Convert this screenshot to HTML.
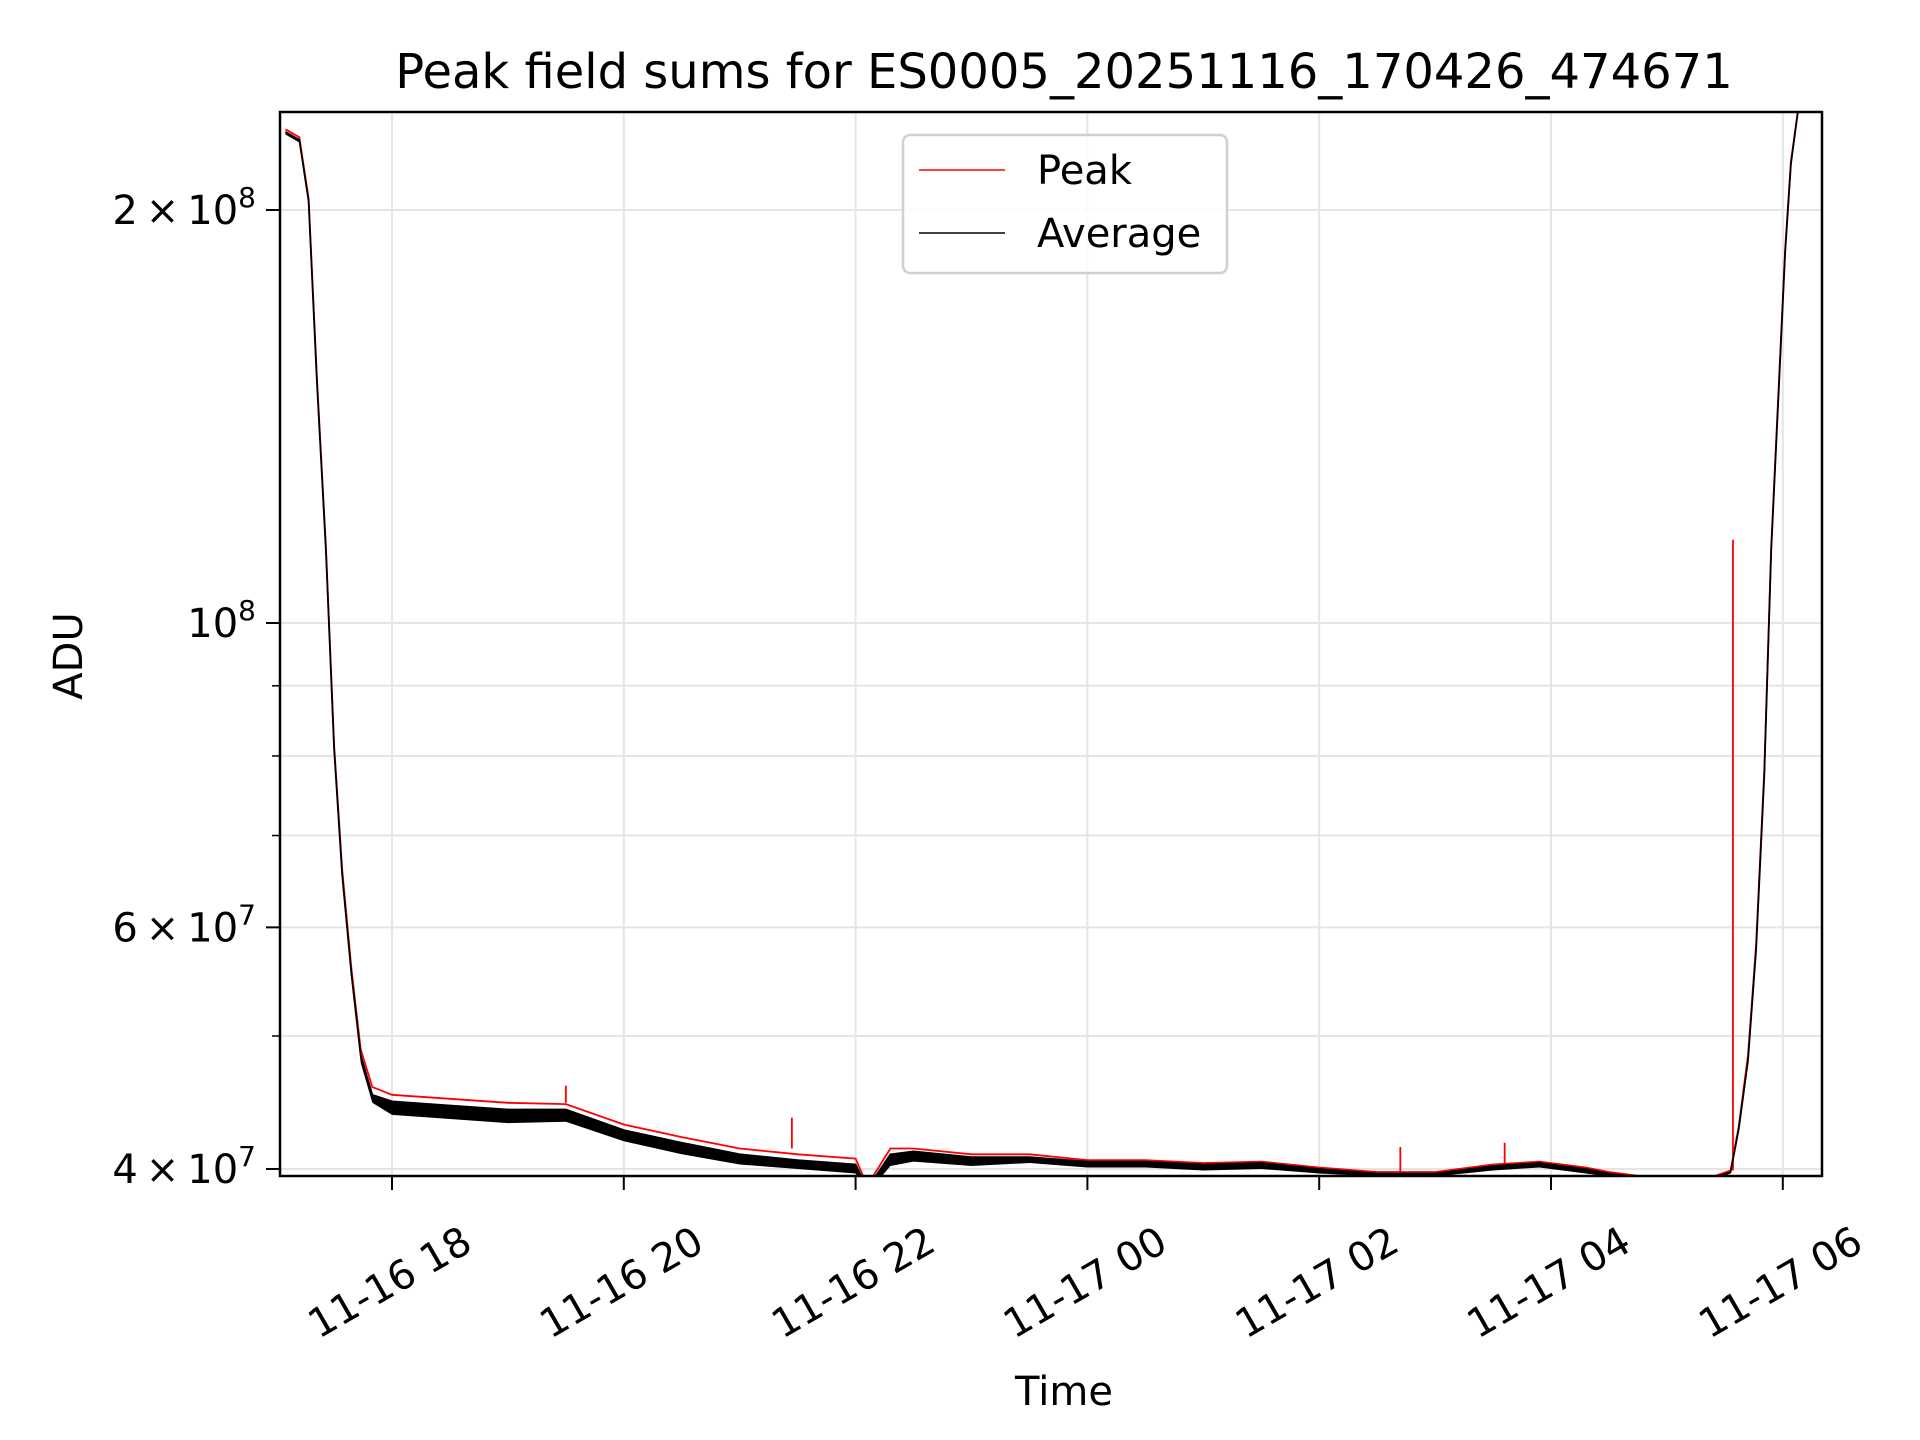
<!DOCTYPE html>
<html><head><meta charset="utf-8"><style>
html,body{margin:0;padding:0;background:#fff;}
svg{display:block;font-family:"DejaVu Sans","Liberation Sans",sans-serif;}
</style></head><body>
<svg id="chart" width="1920" height="1440" viewBox="0 0 1920 1440" xmlns="http://www.w3.org/2000/svg">
<rect x="0" y="0" width="1920" height="1440" fill="#fff"/>
<g id="grid"></g>
<g id="plot"></g>
<rect x="280" y="112" width="1542" height="1064" fill="none" stroke="#000" stroke-width="2.5"/>
<g id="axes"></g>
<text x="1064" y="88" font-size="48" text-anchor="middle">Peak field sums for ES0005_20251116_170426_474671</text>
<text x="1064" y="1405" font-size="40" text-anchor="middle">Time</text>
<text x="0" y="0" font-size="40" text-anchor="middle" transform="translate(82,656) rotate(-90)">ADU</text>
<g>
<rect x="903" y="135" width="324" height="138" rx="7" fill="#fff" fill-opacity="0.85" stroke="#d0d0d0" stroke-width="2.5"/>
<line x1="919" y1="170" x2="1005" y2="170" stroke="#ff0000" stroke-width="1.5"/>
<text x="1037" y="184" font-size="40">Peak</text>
<line x1="919" y1="233" x2="1005" y2="233" stroke="#000" stroke-width="1.5"/>
<text x="1037" y="247" font-size="40">Average</text>
</g>
</svg>
<script>
// hours since 2025-11-16 00:00
const times = [17.08,17.2,17.28,17.35,17.43,17.5,17.57,17.65,17.73,17.83,18,18.5,19,19.5,20,20.5,21,21.5,22,22.1,22.3,22.5,23,23.5,24,24.5,25,25.5,26,26.5,27,27.5,27.9,28.3,28.5,29,29.4,29.55,29.62,29.7,29.77,29.84,29.9,29.96,30.02,30.07,30.13];
const peakValues = [2.29e8,2.26e8,2.04e8,1.52e8,1.137e8,8.15e7,6.61e7,5.6e7,4.89e7,4.59e7,4.53e7,4.5e7,4.47e7,4.46e7,4.31e7,4.22e7,4.14e7,4.10e7,4.07e7,3.89e7,4.14e7,4.14e7,4.10e7,4.10e7,4.06e7,4.06e7,4.04e7,4.05e7,4.01e7,3.98e7,3.98e7,4.03e7,4.05e7,4.01e7,3.98e7,3.93e7,3.95e7,3.99e7,4.3e7,4.84e7,5.83e7,7.82e7,1.137e8,1.46e8,1.87e8,2.17e8,2.36e8];
const avgValues = [2.28e8,2.25e8,2.03e8,1.51e8,1.13e8,8.1e7,6.55e7,5.55e7,4.84e7,4.53e7,4.48e7,4.45e7,4.42e7,4.42e7,4.27e7,4.18e7,4.1e7,4.06e7,4.03e7,3.87e7,4.1e7,4.12e7,4.08e7,4.08e7,4.05e7,4.05e7,4.03e7,4.04e7,4.0e7,3.97e7,3.97e7,4.02e7,4.04e7,4.0e7,3.97e7,3.92e7,3.94e7,3.98e7,4.28e7,4.8e7,5.78e7,7.75e7,1.13e8,1.45e8,1.86e8,2.16e8,2.36e8];
const avgLowValues = [2.27e8,2.24e8,2.02e8,1.5e8,1.12e8,8.05e7,6.5e7,5.5e7,4.78e7,4.47e7,4.38e7,4.35e7,4.32e7,4.33e7,4.19e7,4.1e7,4.03e7,4.0e7,3.97e7,3.84e7,4.02e7,4.05e7,4.02e7,4.04e7,4.01e7,4.01e7,3.99e7,4.0e7,3.97e7,3.95e7,3.95e7,3.99e7,4.01e7,3.97e7,3.95e7,3.91e7,3.93e7,3.97e7,4.27e7,4.78e7,5.75e7,7.7e7,1.12e8,1.44e8,1.85e8,2.15e8,2.35e8];
const spikeTimes = [19.5,21.45,26.7,27.6,29.57];
const spikeValues = [4.6e7,4.36e7,4.15e7,4.18e7,1.15e8];
const xTickHours = [18,20,22,24,26,28,30];
const xTickLabels = ["11-16 18","11-16 20","11-16 22","11-17 00","11-17 02","11-17 04","11-17 06"];
const yGridValues = [4e7,5e7,6e7,7e7,8e7,9e7,1e8,2e8];
const yMajorValues = [4e7,6e7,1e8,2e8];
const yMajorMantissa = ["4","6","","2"];
const yMajorExp = ["7","7","8","8"];

const NS="http://www.w3.org/2000/svg";
const X0=280,X1=1822,Y0=112,Y1=1176;
function xs(h){return 392+(h-18)*115.9;}
function ys(v){return 623-1372*Math.log10(v/1e8);}
function mk(tag,attrs,parent){const e=document.createElementNS(NS,tag);for(const k in attrs)e.setAttribute(k,attrs[k]);parent.appendChild(e);return e;}
const grid=document.getElementById('grid'),plot=document.getElementById('plot'),axes=document.getElementById('axes');

const defs=mk('defs',{},document.getElementById('chart'));
const cp=mk('clipPath',{id:'clip'},defs);
mk('rect',{x:X0,y:Y0,width:X1-X0,height:Y1-Y0},cp);
plot.setAttribute('clip-path','url(#clip)');

xTickHours.forEach((h,i)=>{
  const x=xs(h);
  const g=mk('line',{x1:x,y1:Y0,x2:x,y2:Y1,stroke:'#e5e5e5','stroke-width':2},grid);
  
  
  const t=mk('line',{x1:x,y1:Y1,x2:x,y2:Y1+14,stroke:'#000','stroke-width':2},axes);
  
  
  const lb=mk('text',{x:0,y:0,'font-size':40,'text-anchor':'middle','dominant-baseline':'central',transform:`translate(${x-2},${1283}) rotate(-30)`},axes);
  lb.textContent=xTickLabels[i];
  
  
});
yGridValues.forEach(v=>{
  const y=ys(v);
  const g=mk('line',{x1:X0,y1:y,x2:X1,y2:y,stroke:'#e5e5e5','stroke-width':2},grid);
  
  
  const major=yMajorValues.includes(v);
  const t=mk('line',{x1:X0-(major?14:8),y1:y,x2:X0,y2:y,stroke:'#000','stroke-width':major?2:1.5},axes);
  
  
});
yMajorValues.forEach((v,i)=>{
  const y=ys(v);
  const t=mk('text',{x:X0-24,y:y+14,'font-size':40,'text-anchor':'end'},axes);
  
  
  const m=yMajorMantissa[i];
  t.innerHTML=(m?m+'\u2009\u00d7\u200910':'10')+`<tspan dy="-17" font-size="28">${yMajorExp[i]}</tspan>`;
});

function pts(vals){return times.map((h,i)=>xs(h).toFixed(1)+','+ys(vals[i]).toFixed(1));}
const band=mk('polygon',{points:pts(avgValues).concat(pts(avgLowValues).reverse()).join(' '),fill:'#000'},plot);


const pk=mk('polyline',{points:pts(peakValues).join(' '),fill:'none',stroke:'#ff0000','stroke-width':1.8},plot);


spikeTimes.forEach((h,i)=>{
  const j=times.findIndex(t=>t>=h);
  const base=peakValues[Math.max(0,j-1)];
  const s=mk('line',{x1:xs(h),y1:ys(base),x2:xs(h),y2:ys(spikeValues[i]),stroke:'#ff0000','stroke-width':1.8},plot);
  
  
});
const av=mk('polyline',{points:pts(avgValues).join(' '),fill:'none',stroke:'#000','stroke-width':1.8},plot);


</script>
</body></html>
